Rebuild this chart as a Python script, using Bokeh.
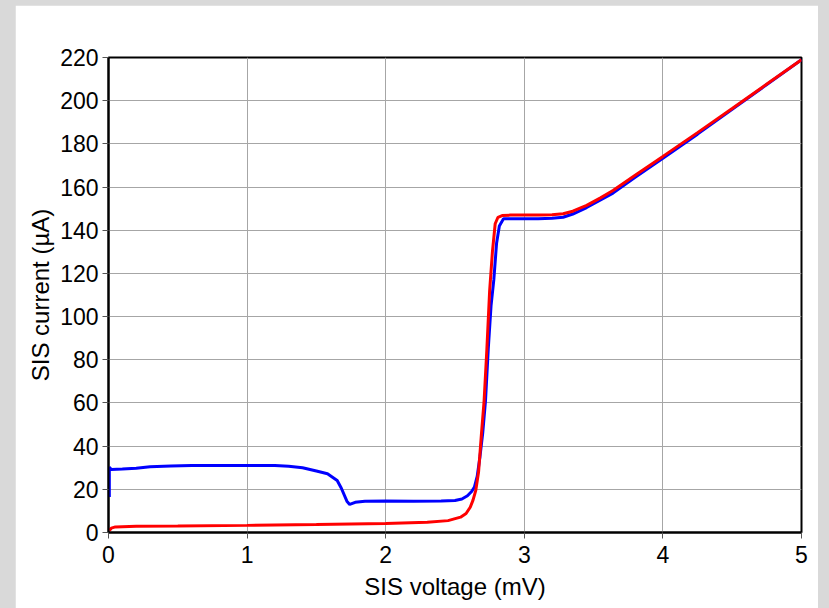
from bokeh.plotting import figure
from bokeh.embed import file_html
from bokeh.resources import INLINE
from bokeh.models import FixedTicker, Range1d

# SIS I-V curves (voltage in mV, current in uA)
blue_v = [0.006, 0.006, 0.02, 0.1, 0.2, 0.3, 0.45, 0.6, 0.8, 1.0, 1.2, 1.3, 1.4, 1.5,
          1.58, 1.65, 1.68, 1.72, 1.74, 1.78, 1.85, 2.0, 2.2, 2.4, 2.5, 2.55, 2.59,
          2.62, 2.64, 2.66, 2.68, 2.70, 2.72, 2.74, 2.76, 2.78, 2.80, 2.82, 2.85,
          2.9, 3.0, 3.1, 3.2, 3.28, 3.35, 3.45, 3.55, 3.64, 3.8, 4.0, 4.25, 4.5,
          4.75, 5.0]
blue_i = [16.5, 30.3, 29.2, 29.4, 29.8, 30.5, 30.8, 31.0, 31.0, 31.0, 31.0, 30.7,
          30.0, 28.5, 27.2, 24.1, 20.5, 14.5, 13.0, 14.0, 14.5, 14.6, 14.5, 14.6,
          14.8, 15.5, 17.0, 19.0, 21.0, 26.0, 35.0, 46.0, 61.0, 85.0, 105.0, 117.0,
          134.0, 142.0, 145.3, 145.3, 145.3, 145.3, 145.5, 146.0, 147.5, 150.5,
          154.0, 157.2, 164.5, 173.3, 184.5, 196.0, 207.5, 219.0]

red_v = [0.006, 0.02, 0.05, 0.2, 0.5, 1.0, 1.5, 2.0, 2.3, 2.45, 2.54, 2.58, 2.61,
         2.63, 2.65, 2.67, 2.69, 2.71, 2.73, 2.75, 2.77, 2.79, 2.81, 2.84, 2.9,
         3.0, 3.1, 3.2, 3.28, 3.35, 3.45, 3.55, 3.64, 3.8, 4.0, 4.25, 4.5, 4.75, 5.0]
red_i = [0.9, 2.0, 2.6, 2.9, 3.0, 3.3, 3.7, 4.2, 4.7, 5.5, 7.1, 8.8, 11.7, 15.0,
         19.5, 28.0, 45.0, 61.0, 85.0, 112.0, 130.0, 143.0, 146.0, 146.8, 147.0,
         147.0, 147.0, 147.2, 147.6, 148.8, 151.5, 155.0, 158.4, 165.5, 174.2,
         185.2, 196.4, 207.7, 219.0]

x_ticks = [0, 1, 2, 3, 4, 5]
y_ticks = [0, 20, 40, 60, 80, 100, 120, 140, 160, 180, 200, 220]

FONT = "Liberation Sans"

p = figure(frame_width=693, frame_height=475,
           min_border_left=93, min_border_right=17,
           min_border_top=52, min_border_bottom=76,
           margin=(5, 0, 0, 15),
           x_range=Range1d(0, 5), y_range=Range1d(0, 220),
           output_backend="svg", toolbar_location=None,
           background_fill_color="white", border_fill_color="white")

p.outline_line_color = "black"
p.outline_line_width = 2

p.xaxis.ticker = FixedTicker(ticks=x_ticks)
p.yaxis.ticker = FixedTicker(ticks=y_ticks)
p.xaxis.axis_label = "SIS voltage (mV)"
p.yaxis.axis_label = "SIS current (µA)"

for ax in (p.xaxis, p.yaxis):
    ax.axis_line_color = "black"
    ax.axis_line_width = 2
    ax.major_tick_in = 0
    ax.major_tick_out = 6
    ax.major_tick_line_color = "#555555"
    ax.minor_tick_line_color = None
    ax.major_label_text_font = FONT
    ax.major_label_text_font_size = "23px"
    ax.major_label_text_color = "black"
    ax.axis_label_text_font = FONT
    ax.axis_label_text_font_size = "24px"
    ax.axis_label_text_font_style = "normal"
    ax.axis_label_text_color = "black"

p.xaxis.major_label_standoff = 7
p.yaxis.major_label_standoff = 4
p.xaxis.axis_label_standoff = 7
p.yaxis.axis_label_standoff = 3

p.grid.grid_line_color = "#a6a6a6"
p.grid.grid_line_width = 1

p.line(blue_v, blue_i, line_color="#0000ff", line_width=3)
p.line(red_v, red_i, line_color="#ff0000", line_width=3)

html = file_html(p, INLINE)
html = html.replace("</head>",
                    "<style>html, body { background: #d9d9d9 !important; margin: 0; }</style></head>", 1)
open("out.html", "w").write(html)
